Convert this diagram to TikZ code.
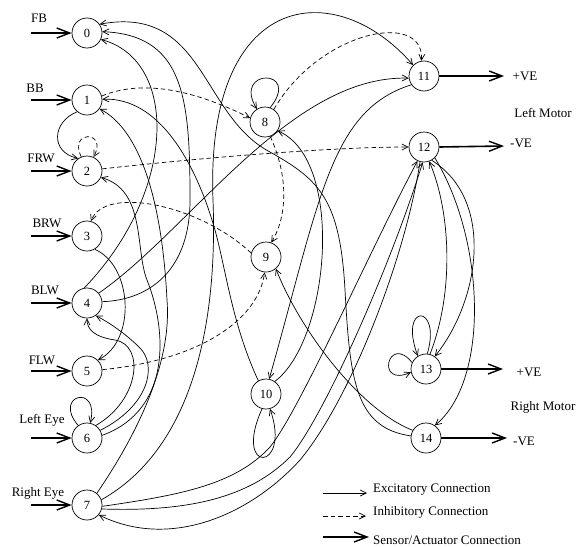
\documentclass[tikz,border=0pt]{standalone}
\usepackage{fontspec}
\setmainfont{Liberation Serif}
\usetikzlibrary{arrows.meta}
\begin{document}
\begin{tikzpicture}[x=1pt,y=1pt,
  neuron/.style={circle,draw,line width=0.7pt,minimum size=30pt,inner sep=0pt,font=\fontsize{12.5}{12.5}\selectfont},
  exc/.style={line width=0.7pt,-{Straight Barb[length=6pt,width=6pt]}},
  inh/.style={line width=0.7pt,dash pattern=on 4.5pt off 3pt,-{Straight Barb[length=6pt,width=6pt]}},
  sens/.style={line width=1.6pt,-{Straight Barb[length=13pt,width=10pt,line width=1.4pt]}},
  lbl/.style={font=\fontsize{13}{13}\selectfont,inner sep=0pt}]
\useasboundingbox (0,0) rectangle (577,-546);
% neurons
\node[neuron] (n0) at (87,-33) {0};
\node[neuron] (n1) at (87,-100) {1};
\node[neuron] (n2) at (87,-171) {2};
\node[neuron] (n3) at (87,-236) {3};
\node[neuron] (n4) at (87,-303) {4};
\node[neuron] (n5) at (87,-371) {5};
\node[neuron] (n6) at (87,-438) {6};
\node[neuron] (n7) at (87,-505) {7};
\node[neuron] (n8) at (265,-122) {8};
\node[neuron] (n9) at (266,-257) {9};
\node[neuron] (n10) at (266,-394) {10};
\node[neuron] (n11) at (424,-76) {11};
\node[neuron] (n12) at (424,-147) {12};
\node[neuron] (n13) at (426,-369) {13};
\node[neuron] (n14) at (426,-438) {14};
% sensor inputs
\foreach \i/\t/\lx/\ly in {0/FB/39/-18,1/BB/35/-88,2/FRW/41/-158,3/BRW/47/-223,4/BLW/45/-290,5/FLW/42/-360,6/Left Eye/42/-420,7/Right Eye/38/-493}{
  \node[lbl] (t\i) at (\lx,\ly) {\t};
}
\foreach \i in {0,...,7}{
  \path (n\i.west) ++(-41,0) coordinate (s\i);
  \draw[sens] (s\i) -- (n\i.west);
}
% motor outputs
\coordinate (o11) at (504,-76);
\coordinate (o12) at (504,-146);
\coordinate (o13) at (503,-369);
\coordinate (o14) at (507,-438);
\draw[sens] (n11.east) -- (o11);
\draw[sens] (n12.east) -- (o12);
\draw[sens] (n13.east) -- (o13);
\draw[sens] (n14.east) -- (o14);
\node[lbl] (p11) at (525,-76) {+VE};
\node[lbl] (lm) at (543,-113) {Left Motor};
\node[lbl] (p12) at (521,-143) {-VE};
\node[lbl] (p13) at (529,-372) {+VE};
\node[lbl] (rm) at (543,-407) {Right Motor};
\node[lbl] (p14) at (524,-441) {-VE};
% inhibitory connections
\draw[inh] (n2.112) .. controls (68,-130) and (108,-130) .. (n2.65);
\draw[inh] (n1.15) .. controls (140,-80) and (190,-88) .. (n8.165);
\draw[inh] (n2.8) .. controls (200,-158) and (330,-147) .. (n12.west);
\draw[inh] (n9.165) .. controls (200,-205) and (105,-185) .. (n3.75);
\draw[inh] (n5.5) .. controls (200,-360) and (258,-320) .. (n9.265);
\draw[inh] (n8.290) .. controls (288,-175) and (288,-215) .. (n9.70);
\draw[inh] (n8.55) .. controls (320,-30) and (425,-10) .. (n11.100);
% excitatory connections, left
\draw[exc] (n1.230) .. controls (52,-122) and (50,-152) .. (n2.125);
\draw[exc] (n3.300) .. controls (132,-265) and (137,-340) .. (n5.45);
\draw[exc] (n4.100) .. controls (178,-190) and (178,-60) .. (n0.-25);
\draw[exc] (n4.5) .. controls (150,-300) and (190,-270) .. (190,-200)
  .. controls (190,-100) and (185,-35) .. (n0.5);
\draw[exc] (n4.40) .. controls (190,-230) and (290,-75) .. (n11.188);
\draw[exc] (n6.55) .. controls (140,-400) and (145,-345) .. (115,-340)
  .. controls (95,-337) and (87,-330) .. (n4.270);
\draw[exc] (n6.30) .. controls (150,-405) and (157,-365) .. (140,-348)
  .. controls (125,-333) and (108,-322) .. (n4.305);
\draw[exc] (n6.10) .. controls (172,-410) and (167,-330) .. (147,-280)
  .. controls (135,-250) and (146,-190) .. (n2.-25);
\draw[exc] (n7.50) .. controls (140,-430) and (172,-360) .. (167,-300)
  .. controls (162,-200) and (140,-130) .. (n1.-35);
\draw[exc] (n10.120) .. controls (230,-320) and (225,-260) .. (212,-220)
  .. controls (195,-165) and (160,-97) .. (n1.3);
\draw[exc] (n7.20) .. controls (190,-450) and (218,-330) .. (213,-200)
  .. controls (205,10) and (335,25) .. (n11.135);
% excitatory connections, right
\draw[exc] (n7.-5) .. controls (180,-495) and (235,-485) .. (270,-447)
  .. controls (300,-410) and (370,-250) .. (n12.245);
\draw[exc] (n7.-15) .. controls (190,-512) and (250,-497) .. (290,-457)
  .. controls (325,-415) and (392,-262) .. (n12.265);
\draw[exc] (n12.255) .. controls (405,-260) and (350,-400) .. (300,-460)
  .. controls (250,-515) and (170,-550) .. (n7.-40);
\draw[exc] (n14.172) .. controls (355,-428) and (350,-380) .. (345,-290)
  .. controls (340,-200) and (320,-180) .. (270,-152)
  .. controls (200,-115) and (205,-5) .. (n0.35);
\draw[exc] (n14.150) .. controls (360,-410) and (300,-330) .. (n9.-50);
\draw[exc] (n10.55) .. controls (330,-340) and (345,-160) .. (n8.-35);
\draw[exc] (n11.215) .. controls (330,-110) and (320,-200) .. (n10.78);
\draw[exc] (n12.-60) .. controls (495,-200) and (480,-300) .. (n13.55);
\draw[exc] (n13.75) .. controls (455,-290) and (450,-210) .. (n12.-70);
\draw[exc] (n12.-45) .. controls (485,-240) and (490,-380) .. (n14.55);
% self loops
\draw[exc] (n8.70) .. controls (302,-68) and (232,-68) .. (n8.122);
\draw[exc] (n6.125) .. controls (52,-395) and (100,-383) .. (n6.78);
\draw[exc] (n10.255) .. controls (232,-475) and (292,-472) .. (n10.285);
\draw[exc] (n13.85) .. controls (442,-303) and (398,-303) .. (n13.122);
\draw[exc] (n13.155) .. controls (388,-333) and (375,-388) .. (n13.192);
% legend
\coordinate (le1) at (323,-493); \coordinate (le2) at (367,-493);
\coordinate (li1) at (323,-516); \coordinate (li2) at (366,-516);
\coordinate (ls1) at (323,-537); \coordinate (ls2) at (369,-537);
\draw[exc] (le1) -- (le2);
\draw[inh] (li1) -- (li2);
\draw[sens] (ls1) -- (ls2);
\node[lbl,anchor=west] (lt1) at (373,-490) {Excitatory Connection};
\node[lbl,anchor=west] (lt2) at (373,-512) {Inhibitory Connection};
\node[lbl,anchor=west] (lt3) at (373,-540) {Sensor/Actuator Connection};
\end{tikzpicture}
\end{document}
